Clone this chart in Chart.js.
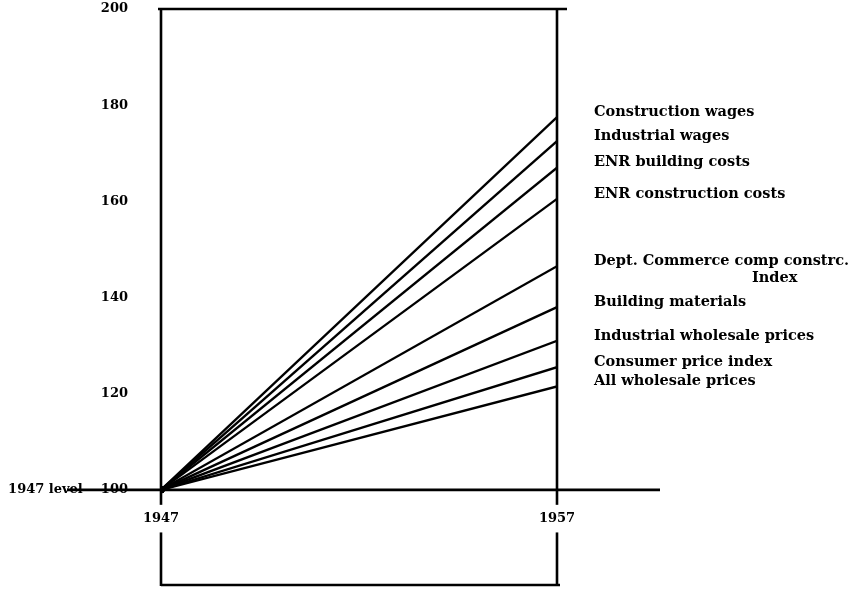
<!DOCTYPE html>
<html>
<head>
<meta charset="utf-8">
<script src="https://cdn.jsdelivr.net/npm/chart.js@4"></script>
<style>
  html, body { margin: 0; padding: 0; background: #fff; }
  #wrap { width: 868px; height: 590px; }
</style>
</head>
<body>
<div id="wrap"><canvas id="c" width="868" height="590"></canvas></div>
<script>
// ---- data ----
const years = [1947, 1957];
const baseLevel = 100;
const seriesNames = [
  "Construction wages",
  "Industrial wages",
  "ENR building costs",
  "ENR construction costs",
  "Dept. Commerce comp constrc.",
  "Building materials",
  "Industrial wholesale prices",
  "Consumer price index",
  "All wholesale prices"
];
const values1957 = [177.5, 172.5, 167, 160.5, 146.5, 138, 131, 125.5, 121.5];
const yTicks = [100, 120, 140, 160, 180, 200];
const xTicks = [1947, 1957];
const baseLabel = "1947 level";
const subLabel = "Index"; // second line of the Dept. Commerce label

const FONT = "'DejaVu Serif', 'Liberation Serif', serif";
const INK = "#000";

const datasets = seriesNames.map((name, i) => ({
  label: name,
  data: [{x: years[0], y: baseLevel}, {x: years[1], y: values1957[i]}],
  borderColor: INK,
  borderWidth: 2.3,
  pointRadius: [3.5, 0],
  pointBackgroundColor: INK,
  pointBorderWidth: 0,
  fill: false,
  tension: 0
}));

const framePlugin = {
  id: 'frame',
  beforeDraw(chart) {
    const {ctx, chartArea: a, scales: {x, y}} = chart;
    const top = y.getPixelForValue(200);
    const y100 = y.getPixelForValue(baseLevel);
    const xl = x.getPixelForValue(years[0]);
    const xr = x.getPixelForValue(years[1]);
    ctx.save();
    ctx.strokeStyle = INK;
    ctx.lineWidth = 2.6;
    ctx.lineCap = 'butt';
    ctx.beginPath();
    ctx.moveTo(xl - 3, top); ctx.lineTo(xr + 10, top);
    ctx.moveTo(xl, top); ctx.lineTo(xl, a.bottom);
    ctx.moveTo(xr, top); ctx.lineTo(xr, a.bottom);
    ctx.moveTo(xl, a.bottom - 1); ctx.lineTo(xr + 3, a.bottom - 1);
    ctx.moveTo(67, y100); ctx.lineTo(xr + 103, y100);
    ctx.stroke();
    ctx.restore();
  },
  afterDatasetsDraw(chart) {
    const {ctx, scales: {x, y}} = chart;
    const xr = x.getPixelForValue(years[1]);
    const lx = xr + 37;
    ctx.save();
    ctx.fillStyle = INK;
    ctx.font = "bold 14.5px " + FONT;
    ctx.textBaseline = 'middle';
    ctx.textAlign = 'left';
    seriesNames.forEach((name, i) => {
      const py = y.getPixelForValue(values1957[i]) - 5;
      ctx.fillText(name, lx, py);
      if (name.startsWith("Dept.")) {
        ctx.fillText(subLabel, lx + 158, py + 17);
      }
    });
    ctx.restore();
  }
};

new Chart(document.getElementById('c'), {
  type: 'line',
  data: { datasets },
  plugins: [framePlugin],
  options: {
    responsive: false,
    animation: false,
    layout: { padding: { left: 0, right: 311, top: 9, bottom: 2 } },
    plugins: { legend: { display: false }, tooltip: { enabled: false } },
    scales: {
      x: {
        type: 'linear',
        min: years[0], max: years[1],
        position: { y: baseLevel },
        grid: { display: false, drawTicks: false },
        border: { display: false },
        afterFit: s => { s.height = 0; s.paddingLeft = 0; s.paddingRight = 0; },
        afterBuildTicks: s => { s.ticks = xTicks.map(v => ({ value: v })); },
        ticks: {
          padding: 21,
          color: INK,
          font: { family: FONT, size: 13, weight: 'bold' },
          callback: v => String(v),
          showLabelBackdrop: true,
          backdropColor: '#fff',
          backdropPadding: { top: 6, bottom: 6, left: 2, right: 2 },
          maxRotation: 0
        }
      },
      y: {
        type: 'linear',
        min: 80, max: 200,
        grid: { display: false, drawTicks: false },
        border: { display: false },
        afterFit: s => { s.width = 161; s.paddingTop = 0; s.paddingBottom = 0; },
        afterBuildTicks: s => { s.ticks = yTicks.map(v => ({ value: v })); },
        ticks: {
          padding: 33,
          color: INK,
          font: { family: FONT, size: 13, weight: 'bold' },
          callback: v => v === baseLevel ? baseLabel + "    " + v : String(v)
        }
      }
    }
  }
});
</script>
</body>
</html>
